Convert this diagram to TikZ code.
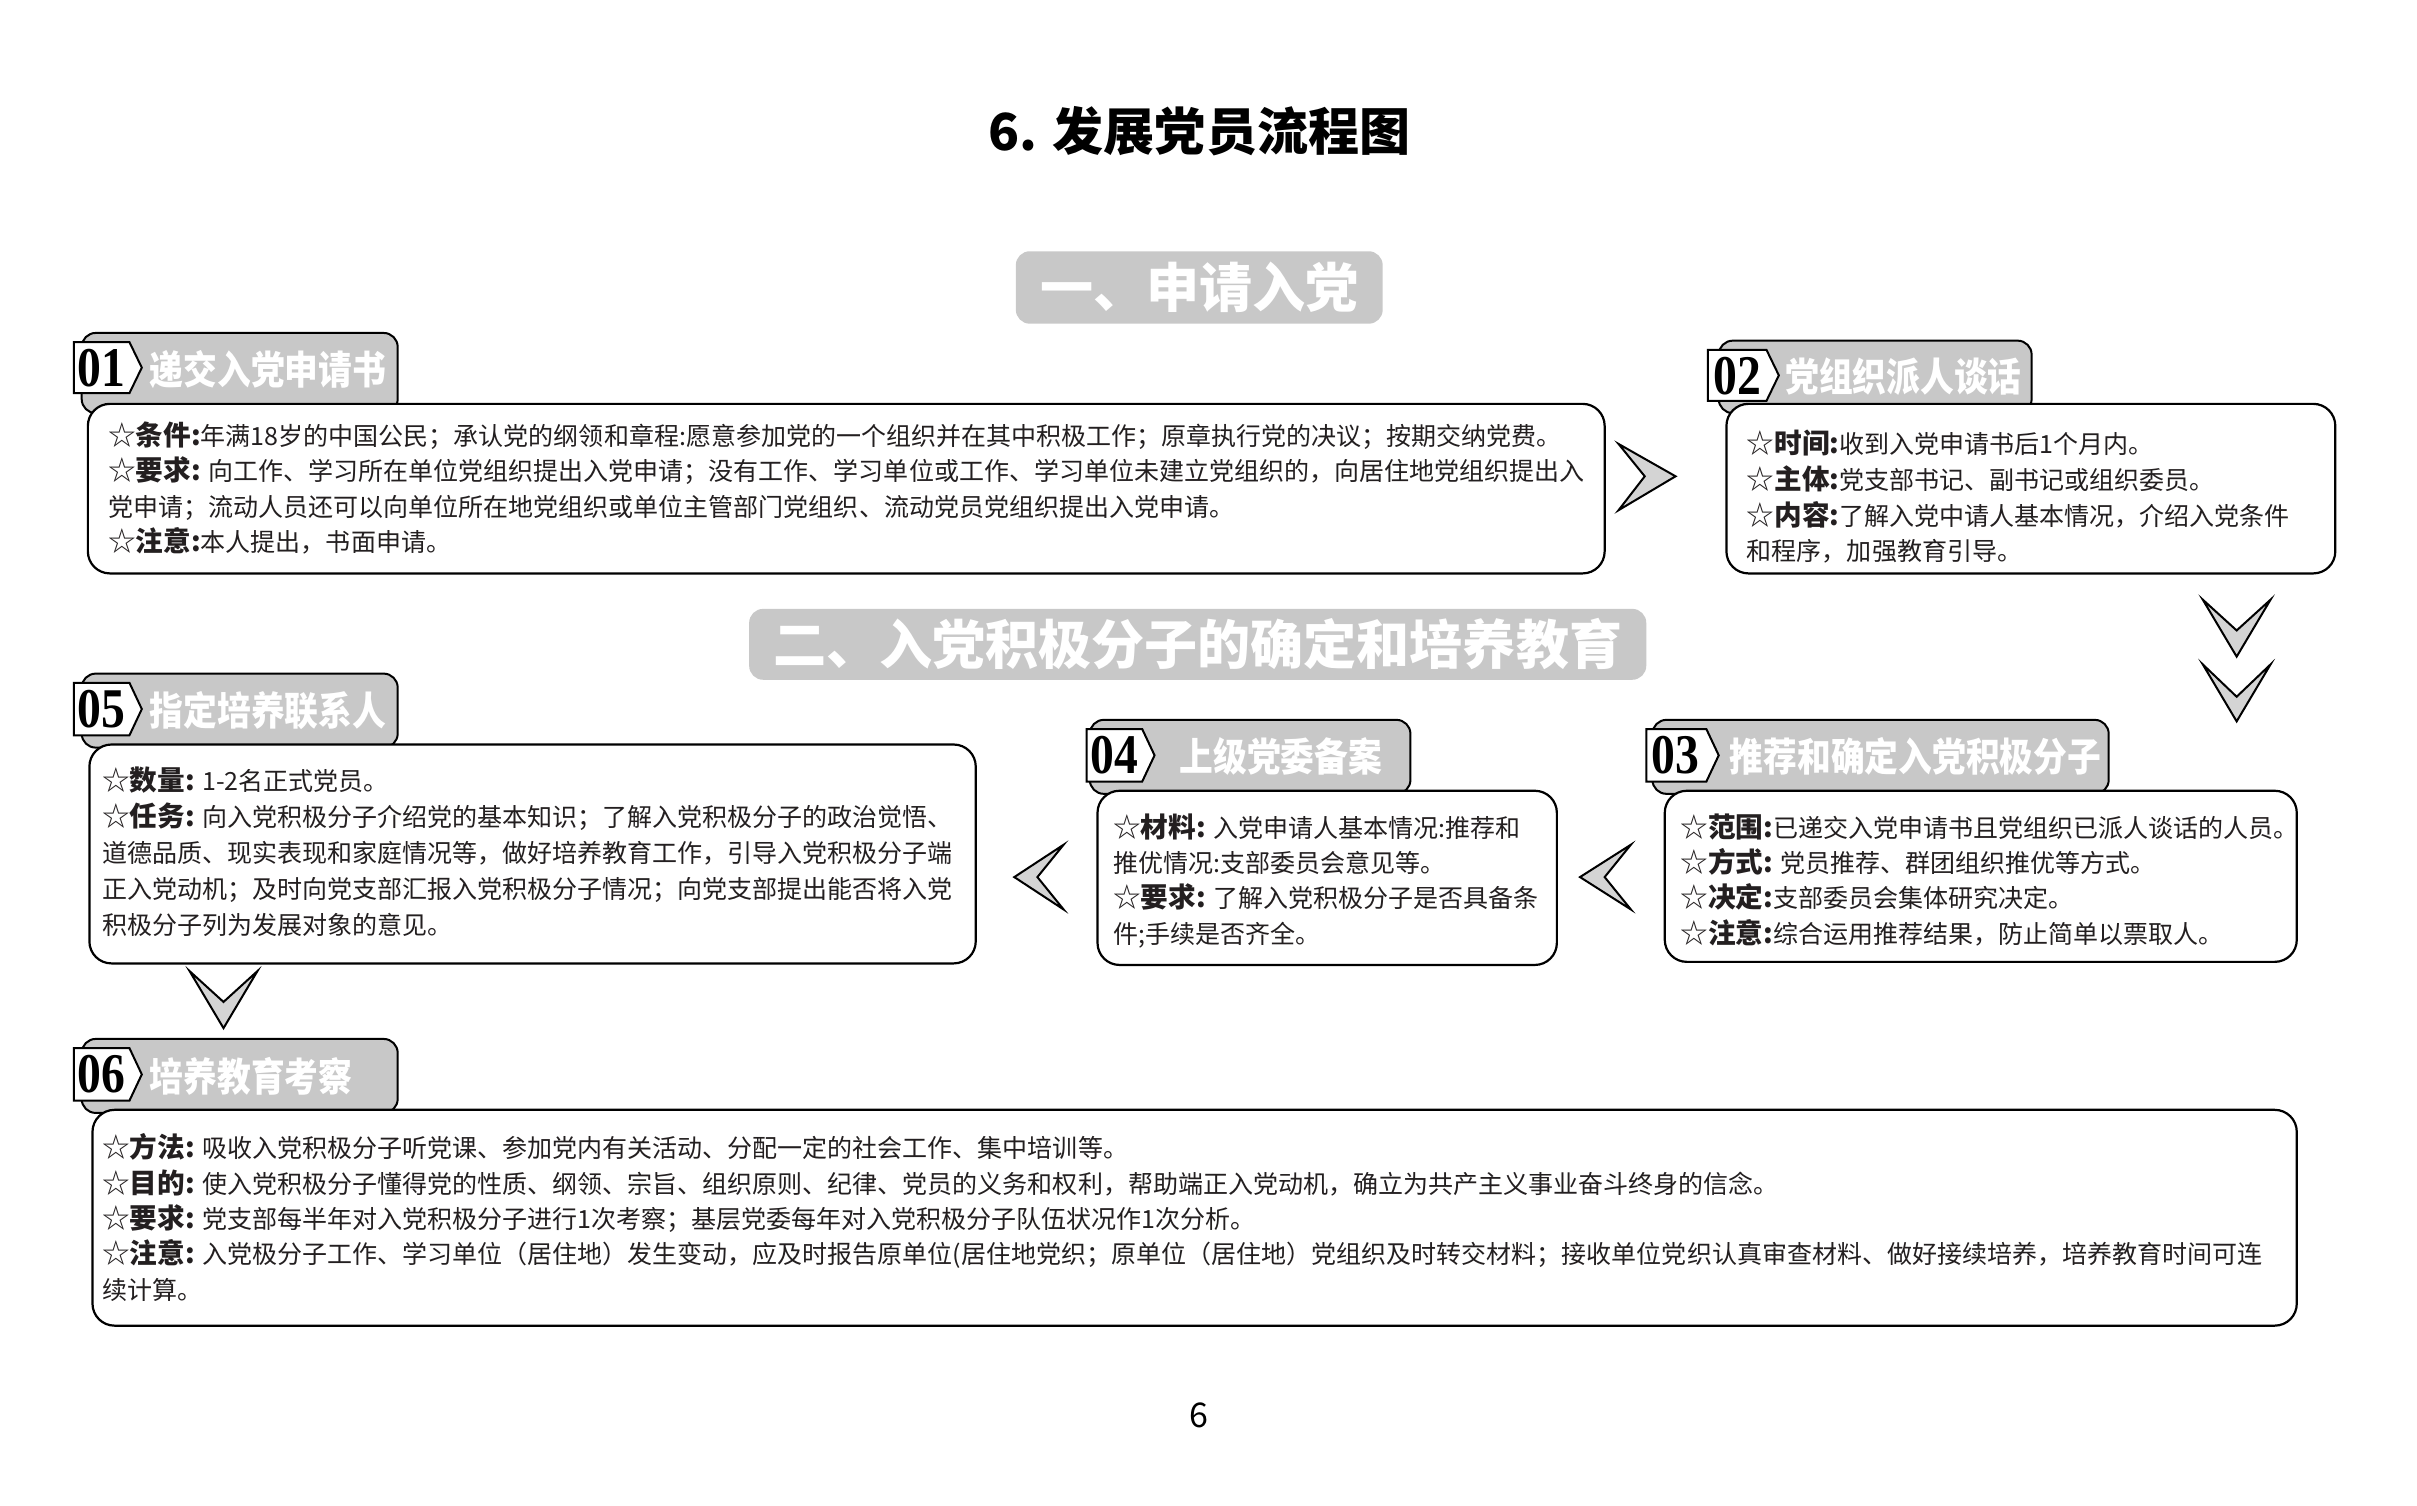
\documentclass[tikz,border=0pt]{standalone}
\usepackage{fontspec}
\setmainfont{Noto Sans CJK SC}
\newfontfamily\condfont{Noto Sans CJK SC}[FakeStretch=0.86]
\newfontfamily\numfont{Liberation Serif}[FakeStretch=0.85]
\usetikzlibrary{fit}
\definecolor{tabgray}{HTML}{C8C8C8}
\definecolor{chevgray}{HTML}{D4D4D4}
\definecolor{txt}{HTML}{231F20}
\newcommand{\lbl}[1]{{\fontsize{13.8}{17}\selectfont ☆\bfseries #1:}}
\tikzset{
  tabbox/.style={fill=tabgray, draw=black, line width=1pt, rounded corners=7pt, inner sep=0pt},
  cbox/.style={fill=white, draw=black, line width=1.1pt, rounded corners=11pt, inner sep=0pt},
  numbox/.style={fill=white, draw=black, line width=1pt},
  numtxt/.style={font=\numfont\fontsize{28}{28}\selectfont\bfseries, text=black, inner sep=0pt},
  tabtxt/.style={font=\condfont\fontsize{19.6}{19.6}\selectfont\bfseries, text=white, inner sep=0pt, anchor=west},
  hdr/.style={fill=tabgray, rounded corners=7pt, inner sep=0pt},
  hdrtxt/.style={font=\fontsize{26.5}{26.5}\selectfont\bfseries, text=white, inner sep=0pt},
  chev/.style={fill=chevgray, draw=black, line width=1pt, line join=miter},
  body/.style={font=\fontsize{12.5}{14}\selectfont, text=txt, anchor=base west, inner sep=0pt}
}
\begin{document}
\begin{tikzpicture}[x=0.77pt, y=-0.77pt]
\useasboundingbox (0,0) rectangle (1568,977);
\fill[white] (0,0) rectangle (1568,977);

% title
\node[font=\fontsize{25.5}{25.5}\selectfont\bfseries, text=black] (title) at (778,85) {6. 发展党员流程图};

% section headers
\node[hdr, fit={(659,163)(897,210)}] (s1) {};
\node[hdrtxt] (s1t) at (s1.center) {一、申请入党};
\node[hdr, fit={(486,395)(1068,441)}] (s2) {};
\node[hdrtxt] (s2t) at (s2.center) {二、入党积极分子的确定和培养教育};

% ---------- 01 ----------
\node[tabbox, fit={(53,216)(258,268)}] (tab01) {};
\node[cbox, fit={(57,262)(1041,372)}] (c01) {};
\draw[numbox] (48,222) -- (84,222) -- (92,238.5) -- (84,255) -- (48,255) -- cycle;
\node[numtxt] (n01) at (66,239) {01};
\node[tabtxt] (h01) at (97,240) {递交入党申请书};
\foreach \l [count=\i from 0] in {
  {\lbl{条件}年满18岁的中国公民；承认党的纲领和章程:愿意参加党的一个组织并在其中积极工作；原章执行党的决议；按期交纳党费。},
  {\lbl{要求} 向工作、学习所在单位党组织提出入党申请；没有工作、学习单位或工作、学习单位未建立党组织的，向居住地党组织提出入},
  {党申请；流动人员还可以向单位所在地党组织或单位主管部门党组织、流动党员党组织提出入党申请。},
  {\lbl{注意}本人提出，书面申请。}}
  \node[body] (t01-\i) at (70,{289+23*\i}) {\l};

% ---------- 02 ----------
\node[tabbox, fit={(1115,221)(1318,268)}] (tab02) {};
\node[cbox, fit={(1120,262)(1515,372)}] (c02) {};
\draw[numbox] (1108,227) -- (1146,227) -- (1154,243.5) -- (1146,260) -- (1108,260) -- cycle;
\node[numtxt] (n02) at (1127,244) {02};
\node[tabtxt] (h02) at (1158,244) {党组织派人谈话};
\foreach \l [count=\i from 0] in {
  {\lbl{时间}收到入党申请书后1个月内。},
  {\lbl{主体}党支部书记、副书记或组织委员。},
  {\lbl{内容}了解入党中请人基本情况，介绍入党条件},
  {和程序，加强教育引导。}}
  \node[body] (t02-\i) at (1133,{294+23.3*\i}) {\l};

% ---------- 03 ----------
\node[tabbox, fit={(1072,467)(1368,515)}] (tab03) {};
\node[cbox, fit={(1080,513)(1490,624)}] (c03) {};
\draw[numbox] (1068,473) -- (1107,473) -- (1115,490) -- (1107,507) -- (1068,507) -- cycle;
\node[numtxt] (n03) at (1087,490) {03};
\node[tabtxt] (h03) at (1122,491) {推荐和确定入党积极分子};
\foreach \l [count=\i from 0] in {
  {\lbl{范围}已递交入党申请书且党组织已派人谈话的人员。},
  {\lbl{方式} 党员推荐、群团组织推优等方式。},
  {\lbl{决定}支部委员会集体研究决定。},
  {\lbl{注意}综合运用推荐结果，防止简单以票取人。}}
  \node[body] (t03-\i) at (1090,{543+23*\i}) {\l};

% ---------- 04 ----------
\node[tabbox, fit={(707,467)(915,515)}] (tab04) {};
\node[cbox, fit={(712,513)(1010,626)}] (c04) {};
\draw[numbox] (705,473) -- (741,473) -- (749,490) -- (741,507) -- (705,507) -- cycle;
\node[numtxt] (n04) at (723,490) {04};
\node[tabtxt] (h04) at (765,491) {上级党委备案};
\foreach \l [count=\i from 0] in {
  {\lbl{材料} 入党申请人基本情况:推荐和},
  {推优情况:支部委员会意见等。},
  {\lbl{要求} 了解入党积极分子是否具备条},
  {件;手续是否齐全。}}
  \node[body] (t04-\i) at (722,{543+23*\i}) {\l};

% ---------- 05 ----------
\node[tabbox, fit={(53,437)(258,485)}] (tab05) {};
\node[cbox, fit={(58,483)(633,625)}] (c05) {};
\draw[numbox] (48,443) -- (84,443) -- (92,460) -- (84,477) -- (48,477) -- cycle;
\node[numtxt] (n05) at (66,460) {05};
\node[tabtxt] (h05) at (97,461) {指定培养联系人};
\foreach \l [count=\i from 0] in {
  {\lbl{数量} 1-2名正式党员。},
  {\lbl{任务} 向入党积极分子介绍党的基本知识；了解入党积极分子的政治觉悟、},
  {道德品质、现实表现和家庭情况等，做好培养教育工作，引导入党积极分子端},
  {正入党动机；及时向党支部汇报入党积极分子情况；向党支部提出能否将入党},
  {积极分子列为发展对象的意见。}}
  \node[body] (t05-\i) at (66,{513+23.3*\i}) {\l};

% ---------- 06 ----------
\node[tabbox, fit={(53,674)(258,722)}] (tab06) {};
\node[cbox, fit={(60,720)(1490,860)}] (c06) {};
\draw[numbox] (48,680) -- (84,680) -- (92,697) -- (84,714) -- (48,714) -- cycle;
\node[numtxt] (n06) at (66,697) {06};
\node[tabtxt] (h06) at (97,698) {培养教育考察};
\foreach \l [count=\i from 0] in {
  {\lbl{方法} 吸收入党积极分子听党课、参加党内有关活动、分配一定的社会工作、集中培训等。},
  {\lbl{目的} 使入党积极分子懂得党的性质、纲领、宗旨、组织原则、纪律、党员的义务和权利，帮助端正入党动机，确立为共产主义事业奋斗终身的信念。},
  {\lbl{要求} 党支部每半年对入党积极分子进行1次考察；基层党委每年对入党积极分子队伍状况作1次分析。},
  {\lbl{注意} 入党极分子工作、学习单位（居住地）发生变动，应及时报告原单位(居住地党织；原单位（居住地）党组织及时转交材料；接收单位党织认真审查材料、做好接续培养，培养教育时间可连},
  {续计算。}}
  \node[body] (t06-\i) at (66,{751+23*\i}) {\l};

% ---------- chevrons ----------
\draw[chev] (1050,288) -- (1087,309) -- (1050,331) -- (1067,309) -- cycle;
\draw[chev] (1429,389) -- (1451,426) -- (1473,389) -- (1451,409) -- cycle;
\draw[chev] (1429,431) -- (1451,468) -- (1473,431) -- (1451,452) -- cycle;
\draw[chev] (1058,548) -- (1025,569) -- (1058,590) -- (1041,569) -- cycle;
\draw[chev] (690,548) -- (658,569) -- (690,590) -- (673,569) -- cycle;
\draw[chev] (123,630) -- (145,667) -- (167,630) -- (145,650) -- cycle;

% page number
\node[font=\fontsize{17}{17}\selectfont, text=black] (pg) at (778,918) {6};
\end{tikzpicture}
\end{document}
